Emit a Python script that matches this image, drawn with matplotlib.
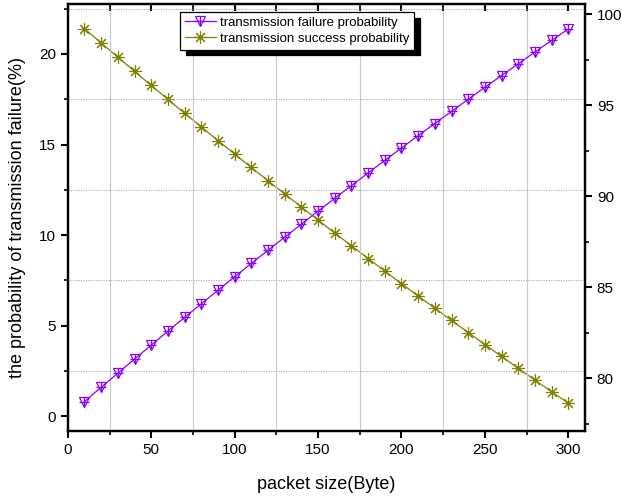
import matplotlib
matplotlib.use('Agg')
import matplotlib.pyplot as plt
from matplotlib.ticker import MultipleLocator
from matplotlib.legend_handler import HandlerTuple

plt.rcParams.update({
    'font.family': ['Liberation Sans', 'DejaVu Sans'],
    'font.size': 11,
})

# tamaño de paquete (Byte)
packet_size = [10, 20, 30, 40, 50, 60, 70, 80, 90, 100,
               110, 120, 130, 140, 150, 160, 170, 180, 190, 200,
               210, 220, 230, 240, 250, 260, 270, 280, 290, 300]

# probabilidad de fallo (%)
failure = [0.80, 1.59, 2.37, 3.15, 3.92, 4.69, 5.45, 6.20, 6.95, 7.69,
           8.43, 9.16, 9.88, 10.60, 11.32, 12.03, 12.73, 13.43, 14.12, 14.81,
           15.49, 16.16, 16.83, 17.50, 18.16, 18.81, 19.46, 20.11, 20.75, 21.38]

# probabilidad de éxito (%)
success = [99.20, 98.41, 97.63, 96.85, 96.08, 95.31, 94.55, 93.80, 93.05, 92.31,
           91.57, 90.84, 90.12, 89.40, 88.68, 87.97, 87.27, 86.57, 85.88, 85.19,
           84.51, 83.84, 83.17, 82.50, 81.84, 81.19, 80.54, 79.89, 79.25, 78.62]

PURPLE = '#8B00FF'
OLIVE = '#808000'

fig = plt.figure(figsize=(6.22, 5.03), dpi=100)
ax = fig.add_axes([0.109, 0.143, 0.8315, 0.849])
ax2 = ax.twinx()

# gridlines al estilo Origin (en ticks menores)
ax.xaxis.set_minor_locator(MultipleLocator(25))
ax.yaxis.set_minor_locator(MultipleLocator(2.5))
ax.grid(which='minor', axis='x', color='#c8c8c8', linestyle='-', linewidth=0.8)
ax.grid(which='minor', axis='y', color='#a0a0a0', linestyle=(0, (1.5, 1.5)), linewidth=0.6)
ax.set_axisbelow(True)

# fallo (eje izquierdo): triángulo con cruz
l1, = ax.plot(packet_size, failure, color=PURPLE, lw=0.9, marker='v',
              markersize=7, fillstyle='none', markeredgewidth=0.9)
l1b, = ax.plot(packet_size, failure, color=PURPLE, lw=0, marker='+',
               markersize=7, markeredgewidth=0.9)

# éxito (eje derecho): asterisco
l2, = ax2.plot(packet_size, success, color=OLIVE, lw=0.9, marker=(8, 2, 0),
               markersize=9, markeredgewidth=0.8)

ax.set_xlim(0, 310)
ax.set_ylim(-0.83, 22.76)
ax2.set_ylim(77.09, 100.55)

ax.xaxis.set_major_locator(MultipleLocator(50))
ax.yaxis.set_major_locator(MultipleLocator(5))
ax2.yaxis.set_major_locator(MultipleLocator(5))
ax2.yaxis.set_minor_locator(MultipleLocator(2.5))

ax.tick_params(axis='x', which='major', direction='out', length=5, width=1.5,
               top=True, labelsize=11)
ax.tick_params(axis='x', which='minor', direction='out', length=3, width=1.2, top=True)
ax.tick_params(axis='y', which='major', direction='out', length=5, width=1.5, labelsize=11)
ax.tick_params(axis='y', which='minor', direction='out', length=3, width=1.2)
ax2.tick_params(axis='y', which='major', direction='out', length=5, width=1.5, labelsize=11)
ax2.tick_params(axis='y', which='minor', direction='out', length=3, width=1.2)

# ticks superiores hacia dentro
for t in ax.xaxis.get_major_ticks() + ax.xaxis.get_minor_ticks():
    t.tick2line.set_marker(3)
    t.tick2line.set_markersize(5)

for sp in list(ax.spines.values()) + list(ax2.spines.values()):
    sp.set_linewidth(1.6)

ax.set_xlabel('packet size(Byte)', fontsize=13, labelpad=14)
ax.set_ylabel('the probability of transmission failure(%)', fontsize=13, labelpad=9)

leg = ax.legend([(l1, l1b), l2],
                ['transmission failure probability', 'transmission success probability'],
                handler_map={tuple: HandlerTuple(ndivide=1, pad=0)},
                loc='upper left', bbox_to_anchor=(180 / 622, 1 - 12 / 503),
                bbox_transform=fig.transFigure, fontsize=9.5, frameon=True,
                fancybox=False, edgecolor='black', framealpha=1,
                shadow={'color': 'black', 'alpha': 1, 'ox': 4, 'oy': -4},
                borderpad=0.35, labelspacing=0.3, handlelength=2.4,
                handletextpad=0.3, borderaxespad=0)
leg.get_frame().set_linewidth(0.9)
leg.set_zorder(10)
ax.set_zorder(ax2.get_zorder() + 1)
ax.patch.set_visible(False)

fig.savefig('out.png', dpi=100)
